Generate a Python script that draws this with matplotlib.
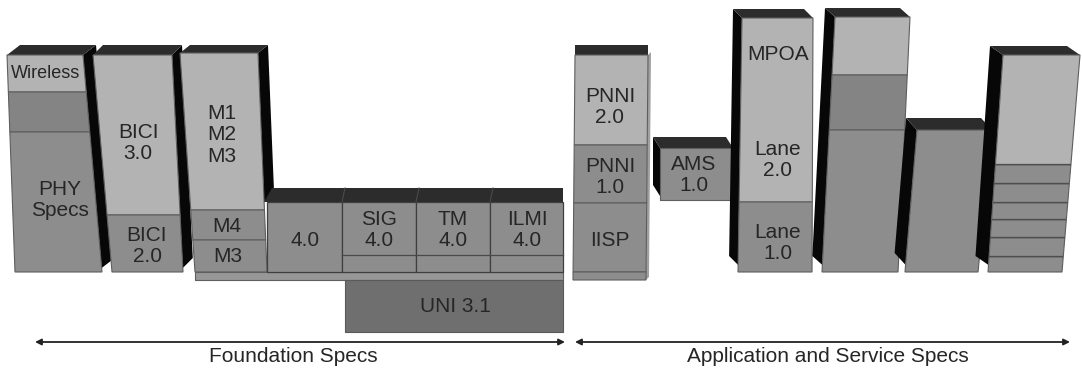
import matplotlib.pyplot as plt
from matplotlib.patches import Polygon

plt.rcParams['font.family'] = ['Liberation Sans', 'DejaVu Sans']

# shades
LIGHT = '#b3b3b3'
MID = '#8d8d8d'
BAND = '#848484'
UNI_C = '#6f6f6f'
TOP = '#2c2c2c'
SIDE = '#070707'
EDGE = '#5e5e5e'
TXT = '#262626'

# ---- stacked columns (pixel space, y grows downwards) ----
col_names = ['PHY', 'BICI', 'M', 'PNNI', 'AMS', 'MPOA', 'C5', 'C6', 'C7']
# front face: x top-left, x top-right, x bottom-left, x bottom-right, y top, y bottom
col_front = [
    (7, 83, 15, 102, 55, 272),
    (93, 172, 112, 183, 55, 272),
    (180, 258, 195, 267, 53, 272),
    (575, 648, 573, 646, 55, 280),
    (660, 733, 660, 733, 148, 200),
    (742, 813, 738, 812, 18, 272),
    (835, 910, 822, 898, 17, 272),
    (917, 992, 905, 978, 130, 272),
    (1003, 1080, 988, 1062, 55, 272),
]
# depth offset of the back edge (dx, dy)
col_depth = [(13, 10), (10, 10), (10, 8), (0, 10), (-7, 11),
             (-9, 9), (-10, 9), (-11, 12), (-13, 9)]
# how far down the side face is visible
col_side_end = [268, 268, 202, 280, 196, 265, 265, 265, 265]
# layers: (bottom y, shade)
col_layers = [
    [(92, LIGHT), (132, BAND), (272, MID)],
    [(215, LIGHT), (272, MID)],
    [(210, LIGHT), (240, MID), (272, MID)],
    [(145, LIGHT), (203, MID), (272, MID), (280, MID)],
    [(200, MID)],
    [(202, LIGHT), (272, MID)],
    [(75, LIGHT), (130, BAND), (272, MID)],
    [(272, MID)],
    [(165, LIGHT), (184, MID), (203, MID), (220, MID), (238, MID), (257, MID), (272, MID)],
]

# ---- horizontal row of 4.0 specs ----
row_x = [267, 342, 416, 490, 563]
row_top, row_bot, row_sub = 202, 272, 255
row_depth = 14
base_x = (195, 563)
base_y = (272, 280)
uni_x = (345, 563)
uni_y = (280, 332)

# ---- labels ----
lab_text = ['Wireless', 'PHY\nSpecs', 'BICI\n3.0', 'BICI\n2.0', 'M1\nM2\nM3', 'M4', 'M3',
            '4.0', 'SIG\n4.0', 'TM\n4.0', 'ILMI\n4.0', 'UNI 3.1',
            'PNNI\n2.0', 'PNNI\n1.0', 'IISP', 'AMS\n1.0', 'MPOA', 'Lane\n2.0', 'Lane\n1.0']
lab_x = [46, 60, 138, 147, 222, 227, 228, 305, 379, 453, 527, 455,
         610, 610, 610, 694, 778, 778, 778]
lab_y = [73, 200, 143, 246, 135, 226, 256, 240, 230, 230, 230, 307,
         107, 177, 240, 175, 55, 160, 243]
lab_size = [13, 15, 15, 15, 15, 15, 15, 15, 15, 15, 15, 15,
             15, 15, 15, 15, 15, 15, 15]

# ---- bottom arrows ----
arrow_x = [(35, 565), (575, 1070)]
arrow_y = 342
arrow_text = ['Foundation Specs', 'Application and Service Specs']
arrow_text_x = [293, 828]
arrow_text_y = 357


def ex(xt, xb, yt, yb, y):
    return xt + (xb - xt) * (y - yt) / (yb - yt)


fig = plt.figure(figsize=(10.82, 3.71), dpi=100)
ax = fig.add_axes([0, 0, 1, 1])
ax.set_xlim(0, 1082)
ax.set_ylim(371, 0)
ax.axis('off')


def poly(pts, fc, ec='none', lw=0.0, z=1):
    ax.add_patch(Polygon(pts, closed=True, facecolor=fc, edgecolor=ec, linewidth=lw, zorder=z))


for i in range(len(col_names)):
    xlt, xrt, xlb, xrb, yt, yb = col_front[i]
    dx, dy = col_depth[i]
    ye = col_side_end[i]
    z = i + 1
    # side face
    if dx > 0:
        xa, xb = xrt, ex(xrt, xrb, yt, yb, ye)
        poly([(xa, yt), (xa + dx, yt - dy), (xb + dx, ye - dy), (xb, ye)], SIDE, z=z)
    elif dx < 0:
        xa, xb = xlt, ex(xlt, xlb, yt, yb, ye)
        poly([(xa, yt), (xa + dx, yt - dy), (xb + dx, ye - dy), (xb, ye)], SIDE, z=z)
    else:
        poly([(xrt, yt), (xrt + 3, yt - 3), (xrb + 3, yb - 3), (xrb, yb)], '#a0a0a0', z=z)
    # top face
    poly([(xlt, yt), (xrt, yt), (xrt + dx, yt - dy), (xlt + dx, yt - dy)], TOP, z=z)
    # front layers
    y0 = yt
    for y1, shade in col_layers[i]:
        pts = [(ex(xlt, xlb, yt, yb, y0), y0), (ex(xrt, xrb, yt, yb, y0), y0),
               (ex(xrt, xrb, yt, yb, y1), y1), (ex(xlt, xlb, yt, yb, y1), y1)]
        poly(pts, shade, EDGE, 0.8, z=z)
        if col_names[i] == 'C7' and y1 < yb:
            ax.plot([ex(xlt, xlb, yt, yb, y1), ex(xrt, xrb, yt, yb, y1)], [y1, y1],
                    color='#3a3a3a', lw=1.6, solid_capstyle='butt', zorder=z)
        y0 = y1

# row of 4.0 blocks
z = 20
poly([(row_x[0] - 3, row_top), (row_x[-1], row_top), (row_x[-1], row_top - row_depth),
      (row_x[0] + 5, row_top - row_depth)], TOP, z=z)
for xa in row_x[1:-1]:
    ax.plot([xa, xa + 3], [row_top, row_top - row_depth], color='#4a4a4a', lw=0.8, zorder=z)
poly([(base_x[0], base_y[0]), (base_x[1], base_y[0]), (base_x[1], base_y[1]),
      (base_x[0], base_y[1])], '#979797', EDGE, 0.8, z=z)
for k in range(len(row_x) - 1):
    xa, xb = row_x[k], row_x[k + 1]
    poly([(xa, row_top), (xb, row_top), (xb, row_bot), (xa, row_bot)], MID, '#3f3f3f', 0.9, z=z)
    if k > 0:
        ax.plot([xa, xb], [row_sub, row_sub], color='#4a4a4a', lw=0.9, zorder=z)
poly([(uni_x[0], uni_y[0]), (uni_x[1], uni_y[0]), (uni_x[1], uni_y[1]),
      (uni_x[0], uni_y[1])], UNI_C, '#5a5a5a', 0.8, z=z)

# labels
for t, x, y, s in zip(lab_text, lab_x, lab_y, lab_size):
    ax.text(x, y, t, ha='center', va='center', fontsize=s, color=TXT,
            linespacing=1.15, zorder=40)

# arrows
for (xa, xb), t, tx in zip(arrow_x, arrow_text, arrow_text_x):
    ax.annotate('', xy=(xa, arrow_y), xytext=(xb, arrow_y),
                arrowprops=dict(arrowstyle='<|-|>', color='#222222', lw=1.3,
                                mutation_scale=9, shrinkA=0, shrinkB=0))
    ax.text(tx, arrow_text_y, t, ha='center', va='center', fontsize=15, color=TXT)

fig.savefig('out.png', dpi=100)
